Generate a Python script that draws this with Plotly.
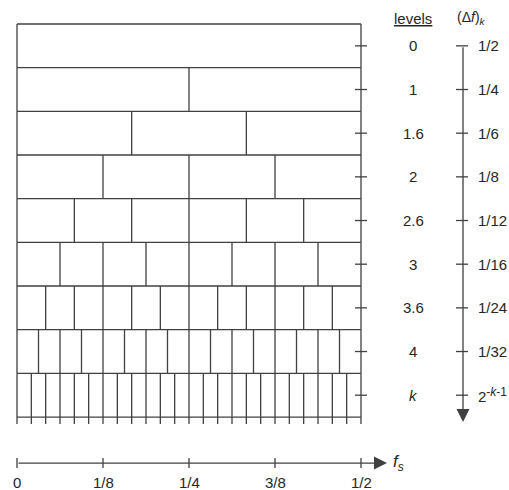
import plotly.graph_objects as go

# ---- data ----
levels = ["0", "1", "1.6", "2", "2.6", "3", "3.6", "4", "<i>k</i>"]
bands = [1, 2, 3, 4, 6, 8, 12, 16, 24]
df_labels = ["1/2", "1/4", "1/6", "1/8", "1/12", "1/16", "1/24", "1/32",
             "2<sup><span style='font-size:12px'>-<i>k</i>-1</span></sup>"]
freq_ticks = [0, 0.125, 0.25, 0.375, 0.5]
freq_labels = ["0", "1/8", "1/4", "3/8", "1/2"]
fmax = 0.5

LC = "#404040"
TC = "#262626"
LW = 1.3
FS = 15

# pixel scale helpers (for layout only)
PX_X = 688.0   # px per frequency unit
PX_Y = 43.67   # px per row
X0PX, Y0PX = 17, 24
W, H = 509, 490

def dx(px):
    return px / PX_X

def dy(px):
    return px / PX_Y

nrows = len(levels)
fig = go.Figure()

# horizontal row boundaries
hx, hy = [], []
for i in range(nrows + 1):
    hx += [0, fmax, None]
    hy += [i, i, None]
fig.add_trace(go.Scatter(x=hx, y=hy, mode="lines", line=dict(color=LC, width=LW), hoverinfo="skip"))

# vertical dividers in each row
vx, vy = [], []
for i, n in enumerate(bands):
    bottom = i + 1 + (dy(7) if i == nrows - 1 else 0)
    for j in range(n + 1):
        f = j * fmax / n
        vx += [f, f, None]
        vy += [i, bottom, None]
fig.add_trace(go.Scatter(x=vx, y=vy, mode="lines", line=dict(color=LC, width=LW), hoverinfo="skip"))

# ticks at right edge for each row
tx, ty = [], []
for i in range(nrows):
    tx += [fmax - dx(6), fmax + dx(6), None]
    ty += [i + 0.5, i + 0.5, None]
fig.add_trace(go.Scatter(x=tx, y=ty, mode="lines", line=dict(color=LC, width=LW), hoverinfo="skip"))

# (Δf)_k axis
xdf = fmax + dx(102)
dtx, dty = [], []
for i in range(nrows):
    dtx += [xdf - dx(7), xdf + dx(5), None]
    dty += [i + 0.5, i + 0.5, None]
fig.add_trace(go.Scatter(x=dtx, y=dty, mode="lines", line=dict(color=LC, width=LW), hoverinfo="skip"))
fig.add_annotation(x=xdf, y=nrows + dy(5), ax=xdf, ay=0.5, axref="x", ayref="y",
                   xref="x", yref="y", text="", showarrow=True, arrowhead=2,
                   arrowsize=2, arrowwidth=LW, arrowcolor=LC)

# frequency axis at bottom
yax = nrows + dy(46)
fx, fy = [], []
for f in freq_ticks:
    fx += [f, f, None]
    fy += [yax - dy(5), yax + dy(5), None]
fig.add_trace(go.Scatter(x=fx, y=fy, mode="lines", line=dict(color=LC, width=LW), hoverinfo="skip"))
fig.add_annotation(x=fmax + dx(26), y=yax, ax=0, ay=yax, axref="x", ayref="y",
                   xref="x", yref="y", text="", showarrow=True, arrowhead=2,
                   arrowsize=2, arrowwidth=LW, arrowcolor=LC)
for f, lab in zip(freq_ticks, freq_labels):
    fig.add_annotation(x=f, y=yax + dy(19), text=lab, showarrow=False,
                       font=dict(size=FS, color=TC), xanchor="center", yanchor="middle")
fig.add_annotation(x=fmax + dx(30), y=yax, text="<i>f</i><sub><i>s</i></sub>", showarrow=False,
                   font=dict(size=17, color=TC), xanchor="left", yanchor="middle")

# level labels and Δf labels
xlev = fmax + dx(52)
for i, (lv, dl) in enumerate(zip(levels, df_labels)):
    fig.add_annotation(x=xlev, y=i + 0.5, text=lv, showarrow=False,
                       font=dict(size=FS, color=TC), xanchor="center", yanchor="middle")
    fig.add_annotation(x=xdf + dx(13), y=i + 0.5, text=dl, showarrow=False,
                       font=dict(size=FS, color=TC), xanchor="left", yanchor="middle")

# headers
fig.add_annotation(x=xlev, y=-dy(6), text="<u>levels</u>", showarrow=False,
                   font=dict(size=FS, color=TC), xanchor="center", yanchor="middle")
fig.add_annotation(x=xdf - dx(8), y=-dy(6), text="(Δ<i>f</i>)<sub><i>k</i></sub>", showarrow=False,
                   font=dict(size=14, color=TC), xanchor="left", yanchor="middle")

fig.update_layout(
    width=W, height=H, margin=dict(l=0, r=0, t=0, b=0),
    paper_bgcolor="white", plot_bgcolor="white", showlegend=False,
    font=dict(family="Liberation Sans, Arial, sans-serif", color=TC),
    xaxis=dict(range=[-dx(X0PX), dx(W - X0PX)], visible=False, fixedrange=True),
    yaxis=dict(range=[dy(H - Y0PX), -dy(Y0PX)], visible=False, fixedrange=True),
)

fig.write_html("out.html", config={"displayModeBar": False},
               post_script="document.body.style.margin='0';document.body.style.overflow='hidden';")
